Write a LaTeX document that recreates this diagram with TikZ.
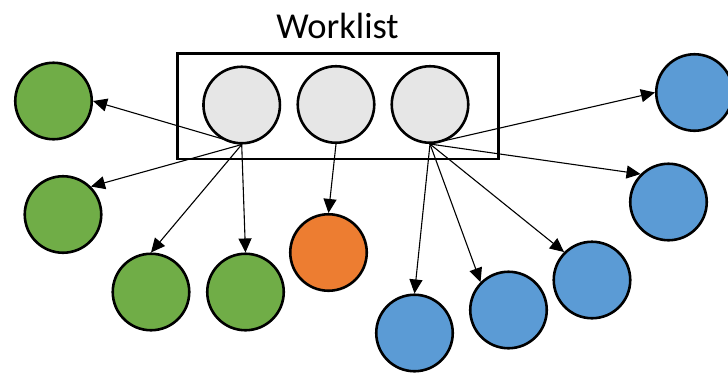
\documentclass[tikz,border=0pt]{standalone}
\usepackage{fontspec}
\setmainfont{Carlito}
\usetikzlibrary{arrows.meta}
\definecolor{itemgray}{HTML}{E6E6E6}
\definecolor{doneGreen}{HTML}{70AD47}
\definecolor{pickOrange}{HTML}{ED7D31}
\definecolor{newBlue}{HTML}{5B9BD5}
\tikzset{
  item/.style={circle, draw=black, line width=2.6pt, minimum size=76.5pt, inner sep=0pt},
  queued/.style={item, fill=itemgray},
  green/.style={item, fill=doneGreen},
  orange/.style={item, fill=pickOrange},
  blue/.style={item, fill=newBlue},
  edge/.style={-{Triangle[length=14pt,width=13pt]}, line width=1.1pt},
  listbox/.style={draw=black, line width=2.5pt}
}
\begin{document}
\begin{tikzpicture}[x=1pt, y=-1pt]
  \useasboundingbox (0,0) rectangle (728,373);
  % worklist container and title
  \draw[listbox] (177.5,53.5) rectangle (498.5,159);
  \node[anchor=base, font=\fontsize{36.5}{40}\selectfont, inner sep=0pt] (title) at (337.5,38.3) {Worklist};
  % items in the worklist
  \node[queued] (q1) at (241.7,105) {};
  \node[queued] (q2) at (336,104.5) {};
  \node[queued] (q3) at (430,104.5) {};
  % successors of the first item
  \node[green] (g1) at (53.5,101) {};
  \node[green] (g2) at (63,214.5) {};
  \node[green] (g3) at (151,292) {};
  \node[green] (g4) at (245.5,292) {};
  % successor of the second item
  \node[orange] (o1) at (328.5,252.5) {};
  % successors of the third item
  \node[blue] (b1) at (694.5,92.5) {};
  \node[blue] (b2) at (668.5,202) {};
  \node[blue] (b3) at (592,280) {};
  \node[blue] (b4) at (508.5,310) {};
  \node[blue] (b5) at (414.5,333) {};
  % edges
  \draw[edge] (q1.south) -- (g1.east);
  \draw[edge] (q1.south) -- (g2.north east);
  \draw[edge] (q1.south) -- (g3.north);
  \draw[edge] (q1.south) -- (g4.north);
  \draw[edge] (q2.south) -- (o1.north);
  \draw[edge] (q3.south) -- (b1.west);
  \draw[edge] (q3.south) -- (b2.north west);
  \draw[edge] (q3.south) -- (b3.north west);
  \draw[edge] (q3.south) -- (b4.north west);
  \draw[edge] (q3.south) -- (b5.north);
\end{tikzpicture}
\end{document}
